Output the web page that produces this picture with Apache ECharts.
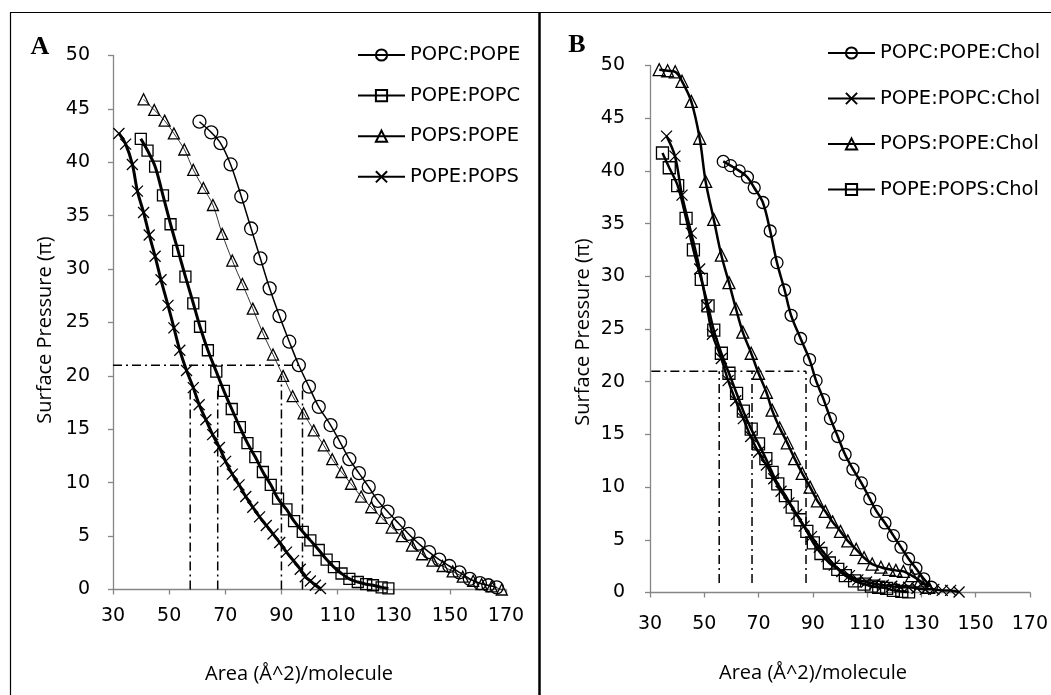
<!DOCTYPE html>
<html><head><meta charset="utf-8">
<script src="https://cdn.jsdelivr.net/npm/echarts@6/dist/echarts.min.js"></script>
<style>html,body{margin:0;padding:0;background:#fff}#c{width:1051px;height:695px}</style>
</head><body><div id="c"></div>
<script>
// ---------- DATA ----------
const xTickMin = 30, xTickMax = 170, xTickStep = 20;
const yTickMin = 0, yTickMax = 50, yTickStep = 5;
const xTitle = 'Area (Å^2)/molecule';
const yTitle = 'Surface Pressure (π)';

// Panel A
const namesA = ['POPC:POPE', 'POPE:POPC', 'POPS:POPE', 'POPE:POPS'];
const popcPope = [[60.8,43.8],[65.0,42.8],[68.3,41.8],[71.9,39.8],[75.7,36.8],[79.2,33.8],[82.5,31.0],[85.8,28.2],[89.3,25.6],[92.8,23.2],[96.2,21.0],[99.8,19.0],[103.3,17.1],[107.5,15.4],[110.9,13.8],[114.2,12.2],[117.6,10.9],[121.1,9.6],[124.4,8.3],[127.8,7.3],[131.7,6.2],[135.3,5.2],[138.9,4.3],[142.6,3.5],[146.2,2.8],[149.8,2.2],[153.4,1.6],[157.1,1.0],[160.7,0.6],[163.7,0.4],[166.7,0.2]];
const popePopc = [[39.9,42.2],[42.3,41.1],[45.0,39.6],[47.8,36.9],[50.5,34.2],[53.2,31.7],[55.8,29.3],[58.6,26.8],[61.0,24.6],[63.8,22.4],[66.8,20.4],[69.5,18.6],[72.3,16.9],[75.2,15.2],[77.9,13.7],[80.7,12.4],[83.4,11.0],[86.2,9.8],[88.8,8.5],[91.8,7.5],[94.5,6.4],[97.6,5.4],[100.3,4.6],[103.3,3.7],[106.1,2.8],[108.7,2.1],[111.4,1.5],[114.2,1.0],[117.2,0.7],[120.2,0.5],[122.6,0.4],[125.7,0.2],[128.1,0.1]];
const popsPope = [[40.9,45.9],[44.7,44.9],[48.4,43.9],[51.7,42.7],[55.4,41.2],[58.6,39.3],[62.2,37.6],[65.6,36.0],[68.9,33.3],[72.5,30.8],[76.1,28.6],[79.8,26.3],[83.4,24.0],[87.0,22.0],[90.6,20.0],[94.0,18.1],[97.9,16.5],[101.5,14.9],[105.1,13.5],[108.1,12.2],[111.4,11.0],[114.8,9.9],[118.4,8.7],[122.0,7.7],[125.7,6.7],[129.3,5.8],[132.9,5.0],[136.5,4.1],[140.1,3.3],[143.8,2.7],[147.4,2.2],[151.0,1.7],[154.6,1.2],[158.3,0.8],[161.3,0.5],[164.9,0.3],[168.5,0.0]];
const popePops = [[32.1,42.7],[34.5,41.7],[36.9,39.8],[38.7,37.3],[40.9,35.3],[42.9,33.2],[45.0,31.2],[47.1,29.0],[49.6,26.6],[51.7,24.5],[53.8,22.4],[56.2,20.5],[58.6,18.9],[60.7,17.3],[63.1,15.9],[65.5,14.5],[67.9,13.3],[70.1,12.0],[72.5,10.8],[74.9,9.8],[77.3,8.7],[79.8,7.7],[82.2,6.8],[84.6,6.0],[87.0,5.2],[89.4,4.4],[91.8,3.5],[94.3,2.7],[96.7,1.9],[98.5,1.2],[100.3,0.8],[102.1,0.4],[103.9,0.1]];
const refLinesA = [[[30,21],[97,21]], [[57.5,0],[57.5,19]], [[67.3,0],[67.3,19]], [[90,0],[90,20]], [[97.5,0],[97.5,19]]];

// Panel B
const namesB = ['POPC:POPE:Chol', 'POPE:POPC:Chol', 'POPS:POPE:Chol', 'POPE:POPS:Chol'];
const popcPopeChol = [[57.0,40.9],[59.7,40.5],[62.9,40.0],[65.9,39.4],[68.4,38.4],[71.6,37.0],[74.3,34.3],[76.8,31.3],[79.6,28.7],[82.0,26.3],[85.5,24.1],[88.8,22.1],[91.2,20.1],[94.0,18.3],[96.5,16.5],[99.2,14.8],[101.9,13.1],[104.8,11.7],[107.9,10.4],[111.0,8.9],[113.5,7.7],[116.6,6.6],[119.7,5.4],[122.5,4.3],[125.3,3.2],[128.0,2.3],[130.9,1.3],[133.7,0.5]];
const popePopcChol = [[36.1,43.3],[39.2,41.4],[41.8,37.7],[45.2,34.1],[48.3,30.7],[50.9,27.2],[53.0,24.5],[56.3,22.2],[58.8,20.1],[61.6,18.2],[64.4,16.5],[67.1,14.8],[70.0,13.3],[72.9,12.1],[75.6,10.8],[78.3,9.6],[81.2,8.5],[84.0,7.4],[86.8,6.3],[89.5,5.3],[92.4,4.3],[95.2,3.4],[97.9,2.6],[100.7,2.0],[103.5,1.6],[106.6,1.2],[109.8,1.0],[112.9,0.8],[116.0,0.7],[119.1,0.6],[122.2,0.5],[125.3,0.5],[128.4,0.4],[131.5,0.3],[134.6,0.3],[137.7,0.2],[140.8,0.2],[143.9,0.05]];
const popsPopeChol = [[33.4,49.6],[36.5,49.5],[39.3,49.4],[41.8,48.5],[45.2,46.6],[48.3,43.1],[50.5,39.0],[53.5,35.4],[56.3,32.0],[59.1,29.4],[61.7,26.9],[64.2,24.7],[67.3,22.7],[70.0,20.8],[72.9,19.0],[75.0,17.3],[77.8,15.6],[80.6,14.2],[83.3,12.7],[86.1,11.3],[89.0,10.0],[91.7,8.7],[94.6,7.7],[97.3,6.7],[100.2,5.8],[102.9,4.9],[106.0,4.1],[108.9,3.3],[111.9,2.7],[115.1,2.4],[118.1,2.2],[120.6,2.1],[123.4,2.0],[126.5,1.6],[129.6,1.1],[132.7,0.5]];
const popePopsChol = [[34.6,41.7],[37.1,40.3],[40.2,38.6],[43.3,35.5],[46.0,32.5],[48.9,29.7],[51.4,27.2],[53.5,24.9],[56.3,22.7],[59.1,20.8],[61.9,18.9],[64.4,17.2],[67.3,15.5],[70.0,14.1],[72.7,12.7],[75.0,11.4],[77.1,10.3],[79.9,9.2],[82.4,8.1],[85.3,6.9],[87.8,5.8],[90.2,4.7],[93.0,3.7],[96.1,2.8],[99.2,2.2],[102.0,1.6],[105.4,1.1],[108.9,0.8],[111.6,0.6],[114.3,0.5],[117.2,0.4],[119.7,0.2],[122.8,0.1],[125.3,0.05]];
const refLinesB = [[[23.5,21],[87.5,21]], [[55.5,0.9],[55.5,21]], [[67.6,0.9],[67.6,21]], [[87.5,0.9],[87.5,21]]];

// ---------- CHART ----------
const chart = echarts.init(document.getElementById('c'), null, {renderer: 'canvas'});
const tickFont = 'DejaVu Sans';
const titleFont = 'Open Sans';
const CROSS = 'path://M0,0L10,10M10,0L0,10';

function axisX(gi, margin) {
  return {
    type: 'value', gridIndex: gi, min: xTickMin, max: xTickMax, interval: xTickStep,
    axisLine: {lineStyle: {color: '#868686', width: 1.3}},
    axisTick: {show: true, length: 5, inside: false, lineStyle: {color: '#868686', width: 1.3}},
    splitLine: {show: false},
    axisLabel: {color: '#000', fontFamily: tickFont, fontSize: 19, margin: margin}
  };
}
function axisY(gi, margin) {
  return {
    type: 'value', gridIndex: gi, min: yTickMin, max: yTickMax, interval: yTickStep,
    axisLine: {show: true, lineStyle: {color: '#868686', width: 1.3}},
    axisTick: {show: true, length: 5, inside: false, lineStyle: {color: '#868686', width: 1.3}},
    splitLine: {show: false},
    axisLabel: {color: '#000', fontFamily: tickFont, fontSize: 19, margin: margin}
  };
}
function curve(name, data, gi, symbol, size, lw) {
  return {
    name: name, type: 'line', xAxisIndex: gi, yAxisIndex: gi, data: data,
    smooth: 0.35, symbol: symbol, symbolSize: size, showSymbol: true,
    lineStyle: {color: '#000', width: lw},
    itemStyle: {color: 'rgba(255,255,255,0)', borderColor: '#000', borderWidth: 1.3},
    emphasis: {disabled: true}, z: 3
  };
}
function refSeries(segs, gi, clip) {
  return segs.map(s => ({
    type: 'line', xAxisIndex: gi, yAxisIndex: gi, data: s, symbol: 'none', clip: clip,
    lineStyle: {color: '#000', width: 1.5, type: [9, 4, 2, 4]}, silent: true, z: 2
  }));
}

const series = [
  curve(namesA[0], popcPope, 0, 'circle', 13, 1.5),
  curve(namesA[1], popePopc, 0, 'rect', 11, 3),
  curve(namesA[2], popsPope, 0, 'triangle', 11, 0.8),
  curve(namesA[3], popePops, 0, CROSS, 11, 3),
  curve(namesB[0], popcPopeChol, 1, 'circle', 12, 2.5),
  curve(namesB[1], popePopcChol, 1, CROSS, 11, 2.5),
  curve(namesB[2], popsPopeChol, 1, 'triangle', 12, 2.5),
  curve(namesB[3], popePopsChol, 1, 'rect', 12, 2.5),
  ...refSeries(refLinesA, 0, true),
  ...refSeries(refLinesB, 1, false)
];

const legendText = {color: '#000', fontFamily: tickFont, fontSize: 19.5, lineHeight: 22};

chart.setOption({
  animation: false,
  backgroundColor: '#fff',
  grid: [
    {left: 113, top: 55.5, width: 393, height: 534},
    {left: 650, top: 65.5, width: 381, height: 527}
  ],
  xAxis: [axisX(0, 17), axisX(1, 22)],
  yAxis: [axisY(0, 23), axisY(1, 25)],
  legend: [
    {data: namesA, orient: 'vertical', left: 357, top: 44, itemWidth: 47, itemHeight: 14, itemGap: 18.6, padding: 0, textStyle: legendText, selectedMode: false},
    {data: namesB, orient: 'vertical', left: 827, top: 42, itemWidth: 47, itemHeight: 14, itemGap: 23.5, padding: 0, textStyle: legendText, selectedMode: false}
  ],
  graphic: [
    {type: 'line', shape: {x1: 10.5, y1: 12.5, x2: 10.5, y2: 695}, style: {stroke: '#000', lineWidth: 1.2}, silent: true},
    {type: 'line', shape: {x1: 10, y1: 12.5, x2: 1051, y2: 12.5}, style: {stroke: '#000', lineWidth: 1.2}, silent: true},
    {type: 'line', shape: {x1: 539.5, y1: 12, x2: 539.5, y2: 695}, style: {stroke: '#000', lineWidth: 2.5}, silent: true},
    {type: 'text', x: 40, y: 47, style: {text: 'A', font: 'bold 26px "Liberation Serif", serif', fill: '#000', align: 'center', verticalAlign: 'middle'}},
    {type: 'text', x: 577, y: 45, style: {text: 'B', font: 'bold 26px "Liberation Serif", serif', fill: '#000', align: 'center', verticalAlign: 'middle'}},
    {type: 'text', x: 45, y: 330, rotation: Math.PI / 2, style: {text: yTitle, font: '20px "' + titleFont + '"', fill: '#000', align: 'center', verticalAlign: 'middle'}},
    {type: 'text', x: 583, y: 332, rotation: Math.PI / 2, style: {text: yTitle, font: '20px "' + titleFont + '"', fill: '#000', align: 'center', verticalAlign: 'middle'}},
    {type: 'text', x: 299, y: 674, style: {text: xTitle, font: '20px "' + titleFont + '"', fill: '#000', align: 'center', verticalAlign: 'middle'}},
    {type: 'text', x: 813, y: 673, style: {text: xTitle, font: '20px "' + titleFont + '"', fill: '#000', align: 'center', verticalAlign: 'middle'}}
  ],
  series: series
});
</script></body></html>
